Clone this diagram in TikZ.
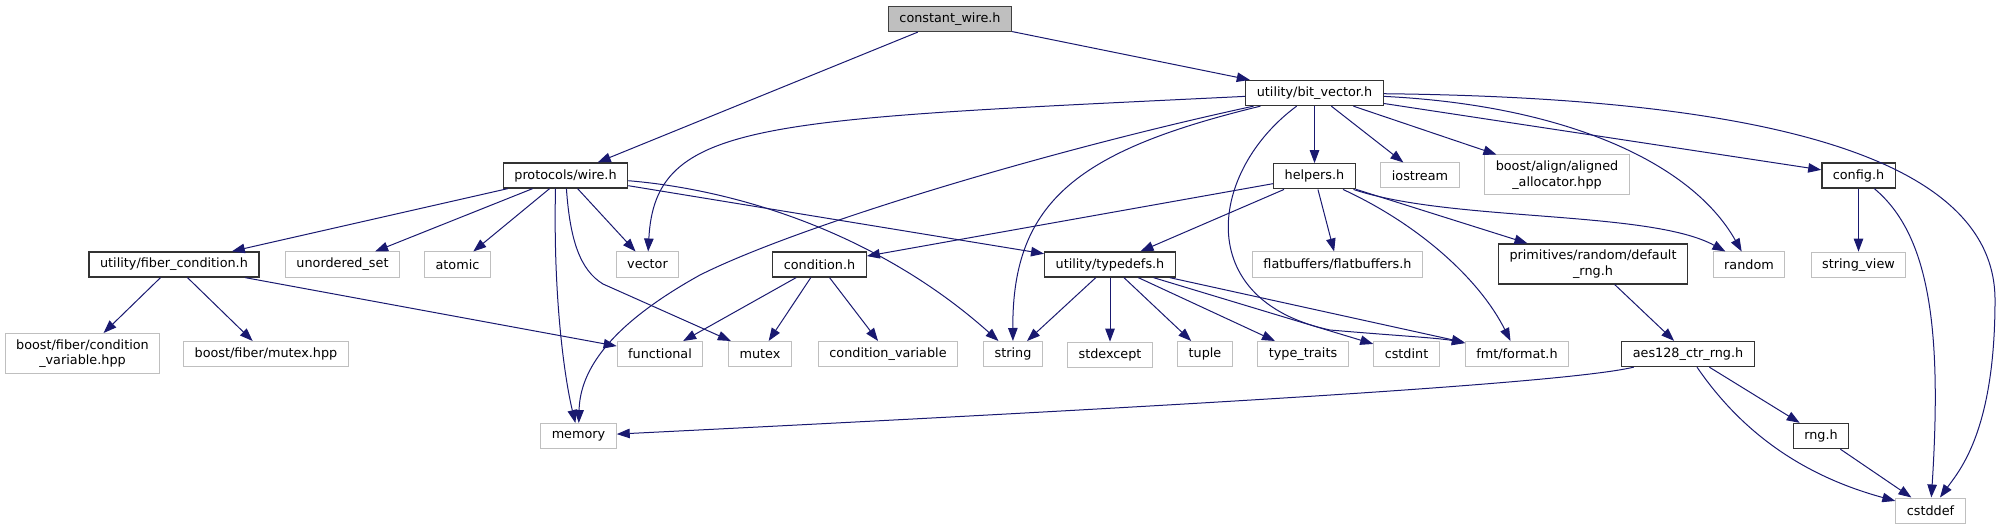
\documentclass[tikz,border=0pt]{standalone}
\usepackage{fontspec}
\setmainfont{DejaVu Sans}
\usepackage{xcolor}
\usetikzlibrary{arrows.meta, positioning}
\definecolor{edgeblue}{HTML}{191970}
\definecolor{boxgrey}{HTML}{BFBFBF}

\begin{document}
\begin{tikzpicture}[
  x=1pt, y=-1pt,
  file/.style={draw=black!80, fill=white, line width=1.3pt, align=center,
               font=\fontsize{12.8}{15.5}\selectfont, inner xsep=11pt, inner ysep=0pt,
               minimum height=25pt},
  sysfile/.style={file, draw=boxgrey, line width=1pt},
  rootfile/.style={file, fill=boxgrey, draw=black!75},
  twoline/.style={minimum height=40pt},
  dep/.style={-{Triangle[length=13pt, width=9.5pt]}, draw=edgeblue, line width=1pt}
]
\useasboundingbox (0,0) rectangle (2001,529);

% top
\node[rootfile] (cw) at (950,19) {constant\_wire.h};
\node[file] (bitvec) at (1314.5,93) {utility/bit\_vector.h};

% second row
\node[file] (wire) at (565.5,175.5) {protocols/wire.h};
\node[file, below=57pt of bitvec] (helpers) {helpers.h};
\node[sysfile] (iostream) at (1420,175.5) {iostream};
\node[sysfile, twoline] (aligned) at (1557,175) {boost/align/aligned\\\_allocator.hpp};
\node[file] (config) at (1858.5,175.5) {config.h};

% third row
\node[file] (fibcond) at (174,264.5) {utility/fiber\_condition.h};
\node[sysfile] (unordset) at (342.5,264.5) {unordered\_set};
\node[sysfile] (atomic) at (457.5,264.5) {atomic};
\node[sysfile] (vector) at (647.5,264.5) {vector};
\node[file] (condition) at (819.5,264.5) {condition.h};
\node[file] (typedefs) at (1110,264.5) {utility/typedefs.h};
\node[sysfile] (flatbuf) at (1337.5,264.5) {flatbuffers/flatbuffers.h};
\node[file, twoline] (defrng) at (1593,264) {primitives/random/default\\\_rng.h};
\node[sysfile] (random) at (1749,264.5) {random};
\node[sysfile, below=63pt of config] (strview) {string\_view};

% fourth row
\node[sysfile, twoline] (cvhpp) at (82.5,353.5) {boost/fiber/condition\\\_variable.hpp};
\node[sysfile] (mutexhpp) at (266,354) {boost/fiber/mutex.hpp};
\node[sysfile] (functional) at (660,354) {functional};
\node[sysfile] (mutex) at (760,354) {mutex};
\node[sysfile] (condvar) at (888,354) {condition\_variable};
\node[sysfile] (string) at (1013,354) {string};
\node[sysfile, below=64pt of typedefs] (stdexcept) {stdexcept};
\node[sysfile] (tuple) at (1205,354) {tuple};
\node[sysfile] (typetraits) at (1303,354) {type\_traits};
\node[sysfile] (cstdint) at (1406.5,354) {cstdint};
\node[sysfile] (format) at (1517,354) {fmt/format.h};
\node[file] (aes) at (1688,354) {aes128\_ctr\_rng.h};

% bottom
\node[sysfile] (memory) at (578.5,436) {memory};
\node[file] (rng) at (1821,436) {rng.h};
\node[sysfile] (cstddef) at (1930.5,510.5) {cstddef};

% constant_wire.h
\draw[dep] (cw) -- (wire);
\draw[dep] (cw) -- (bitvec);

% utility/bit_vector.h
\draw[dep] (bitvec) -- (helpers);
\draw[dep] (bitvec) -- (iostream);
\draw[dep] (bitvec) -- (aligned);
\draw[dep] (bitvec) -- (config);
\draw[dep] (bitvec) .. controls (1560,105) and (1690,160) .. (random);
\draw[dep] (bitvec) .. controls (1790,98) and (1995,165) .. (1995,300)
                    .. controls (1995,430) and (1960,470) .. (cstddef);
\draw[dep] (bitvec) .. controls (760,120) and (655,120) .. (vector);
\draw[dep] (bitvec) .. controls (1050,150) and (800,225) .. (700,275)
                    .. controls (610,325) and (580,370) .. (memory);
\draw[dep] (bitvec) .. controls (1080,150) and (1012,200) .. (string);
\draw[dep] (bitvec) .. controls (1210,170) and (1190,300) .. (1330,330)
                    .. controls (1400,336) and (1440,338) .. (format);

% helpers.h
\draw[dep] (helpers) -- (condition);
\draw[dep] (helpers) -- (typedefs);
\draw[dep] (helpers) -- (flatbuf);
\draw[dep] (helpers) -- (defrng);
\draw[dep] (helpers) .. controls (1450,222) and (1650,210) .. (random);
\draw[dep] (helpers) .. controls (1420,225) and (1480,280) .. (format);

% utility/typedefs.h
\draw[dep] (typedefs) -- (string);
\draw[dep] (typedefs) -- (stdexcept);
\draw[dep] (typedefs) -- (tuple);
\draw[dep] (typedefs) -- (typetraits);
\draw[dep] (typedefs) -- (cstdint);
\draw[dep] (typedefs) -- (format);

% condition.h
\draw[dep] (condition) -- (functional);
\draw[dep] (condition) -- (mutex);
\draw[dep] (condition) -- (condvar);

% protocols/wire.h
\draw[dep] (wire) -- (fibcond);
\draw[dep] (wire) -- (unordset);
\draw[dep] (wire) -- (atomic);
\draw[dep] (wire) -- (vector);
\draw[dep] ([xshift=-10pt]wire.south) .. controls (553,300) and (565,380) .. (memory);
\draw[dep] (wire) .. controls (570,240) and (580,270) .. (603,284) -- (mutex);
\draw[dep] (wire) .. controls (740,190) and (880,235) .. (string);
\draw[dep] (wire) -- (typedefs);

% utility/fiber_condition.h
\draw[dep] (fibcond) -- (cvhpp);
\draw[dep] (fibcond) -- (mutexhpp);
\draw[dep] (fibcond) -- (functional);

% config.h
\draw[dep] (config) -- (strview);
\draw[dep] (config) .. controls (1930,235) and (1942,330) .. (cstddef);

% rng chain
\draw[dep] (defrng) -- (aes);
\draw[dep] (aes) .. controls (1560,385) and (1100,410) .. (memory);
\draw[dep] (aes) -- (rng);
\draw[dep] (aes) .. controls (1740,430) and (1800,475) .. (cstddef);
\draw[dep] (rng) -- (cstddef);
\end{tikzpicture}
\end{document}
